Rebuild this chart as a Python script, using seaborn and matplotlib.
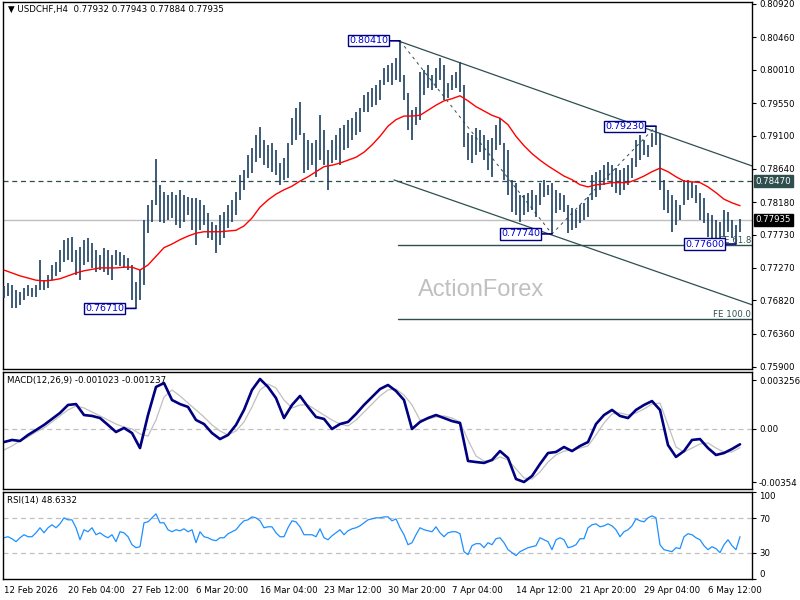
"""
USDCHF H4 chart - price bars with MA, channel and FE levels, MACD and RSI panels
Style: MetaTrader-like, white background, dark bars, thin black frames
"""

import numpy as np
import pandas as pd
import matplotlib
matplotlib.use("Agg")
import matplotlib.pyplot as plt
import matplotlib.transforms as mtransforms
import seaborn as sns

sns.set_style("white")
plt.rcParams["font.family"] = ["DejaVu Sans"]

# ── Price bars (one entry every 2 H4 bars) ─────────────────────────────────
highs = [
    0.7702, 0.7706, 0.7703, 0.7697, 0.7694, 0.7699, 0.7703, 0.7699, 0.7703, 0.7738,
    0.7710, 0.7717, 0.7731, 0.7735, 0.7752, 0.7766, 0.7768, 0.7770, 0.7752, 0.7756,
    0.7766, 0.7768, 0.7761, 0.7752, 0.7745, 0.7754, 0.7752, 0.7745, 0.7752, 0.7749,
    0.7745, 0.7741, 0.7731, 0.7708, 0.7724, 0.7793, 0.7814, 0.7821, 0.7878, 0.7842,
    0.7832, 0.7828, 0.7832, 0.7828, 0.7835, 0.7828, 0.7825, 0.7824, 0.7824, 0.7821,
    0.7814, 0.7803, 0.7790, 0.7786, 0.7800, 0.7804, 0.7814, 0.7821, 0.7832, 0.7855,
    0.7862, 0.7883, 0.7893, 0.7911, 0.7922, 0.7904, 0.7897, 0.7900, 0.7890, 0.7872,
    0.7879, 0.7900, 0.7934, 0.7948, 0.7956, 0.7914, 0.7904, 0.7900, 0.7904, 0.7939,
    0.7918, 0.7890, 0.7904, 0.7911, 0.7920, 0.7925, 0.7932, 0.7934, 0.7943, 0.7948,
    0.7966, 0.7970, 0.7976, 0.7980, 0.7987, 0.8004, 0.8008, 0.8010, 0.8017, 0.8041,
    0.7994, 0.7969, 0.7945, 0.7950, 0.7998, 0.8001, 0.8008, 0.7994, 0.8004, 0.8017,
    0.8008, 0.7983, 0.7994, 0.7998, 0.8012, 0.7980, 0.7914, 0.7911, 0.7920, 0.7918,
    0.7911, 0.7904, 0.7907, 0.7925, 0.7934, 0.7900, 0.7890, 0.7849, 0.7844, 0.7828,
    0.7828, 0.7831, 0.7835, 0.7828, 0.7844, 0.7849, 0.7842, 0.7844, 0.7835, 0.7831,
    0.7828, 0.7814, 0.7810, 0.7807, 0.7814, 0.7817, 0.7825, 0.7855, 0.7860, 0.7862,
    0.7869, 0.7874, 0.7869, 0.7865, 0.7862, 0.7865, 0.7869, 0.7879, 0.7904, 0.7911,
    0.7904, 0.7897, 0.7914, 0.7923, 0.7914, 0.7849, 0.7835, 0.7828, 0.7821, 0.7814,
    0.7849, 0.7849, 0.7846, 0.7842, 0.7831, 0.7824, 0.7803, 0.7800, 0.7793, 0.7790,
    0.7807, 0.7804, 0.7793, 0.7786, 0.7794,
]
lows = [
    0.7685, 0.7688, 0.7672, 0.7672, 0.7676, 0.7683, 0.7688, 0.7687, 0.7687, 0.7696,
    0.7696, 0.7699, 0.7710, 0.7716, 0.7721, 0.7735, 0.7738, 0.7735, 0.7717, 0.7710,
    0.7731, 0.7735, 0.7727, 0.7721, 0.7724, 0.7721, 0.7717, 0.7710, 0.7731, 0.7730,
    0.7727, 0.7724, 0.7683, 0.7671, 0.7683, 0.7703, 0.7775, 0.7790, 0.7814, 0.7790,
    0.7789, 0.7793, 0.7796, 0.7786, 0.7782, 0.7790, 0.7800, 0.7779, 0.7759, 0.7779,
    0.7786, 0.7768, 0.7766, 0.7748, 0.7759, 0.7768, 0.7782, 0.7790, 0.7800, 0.7821,
    0.7835, 0.7851, 0.7858, 0.7873, 0.7879, 0.7869, 0.7865, 0.7860, 0.7855, 0.7842,
    0.7849, 0.7851, 0.7897, 0.7904, 0.7911, 0.7858, 0.7862, 0.7869, 0.7853, 0.7876,
    0.7869, 0.7835, 0.7872, 0.7876, 0.7869, 0.7890, 0.7893, 0.7904, 0.7911, 0.7915,
    0.7943, 0.7943, 0.7950, 0.7952, 0.7959, 0.7980, 0.7984, 0.7980, 0.7987, 0.7984,
    0.7959, 0.7918, 0.7904, 0.7925, 0.7932, 0.7966, 0.7976, 0.7973, 0.7976, 0.7987,
    0.7959, 0.7962, 0.7973, 0.7976, 0.7970, 0.7894, 0.7876, 0.7872, 0.7883, 0.7887,
    0.7876, 0.7862, 0.7853, 0.7890, 0.7897, 0.7849, 0.7828, 0.7804, 0.7800, 0.7790,
    0.7800, 0.7804, 0.7807, 0.7797, 0.7814, 0.7825, 0.7828, 0.7774, 0.7803, 0.7807,
    0.7804, 0.7775, 0.7779, 0.7782, 0.7789, 0.7793, 0.7797, 0.7821, 0.7825, 0.7835,
    0.7842, 0.7849, 0.7839, 0.7831, 0.7828, 0.7835, 0.7842, 0.7851, 0.7867, 0.7876,
    0.7883, 0.7880, 0.7894, 0.7897, 0.7835, 0.7807, 0.7803, 0.7777, 0.7786, 0.7793,
    0.7814, 0.7821, 0.7824, 0.7817, 0.7793, 0.7789, 0.7770, 0.7768, 0.7766, 0.7766,
    0.7770, 0.7777, 0.7768, 0.7760, 0.7777,
]

# ── Moving average, MACD, signal (one entry every 4 bars) ─────────────────
ma_vals = [
    0.7724, 0.7720, 0.7716, 0.7713, 0.7710, 0.7709, 0.7710, 0.7712, 0.7716, 0.7720,
    0.7723, 0.7725, 0.7727, 0.7727, 0.7727, 0.7728, 0.7728, 0.7724, 0.7731, 0.7743,
    0.7755, 0.7760, 0.7766, 0.7771, 0.7775, 0.7777, 0.7777, 0.7777, 0.7778, 0.7779,
    0.7785, 0.7796, 0.7811, 0.7821, 0.7829, 0.7835, 0.7840, 0.7847, 0.7853, 0.7860,
    0.7867, 0.7869, 0.7872, 0.7876, 0.7880, 0.7887, 0.7897, 0.7909, 0.7923, 0.7932,
    0.7937, 0.7937, 0.7938, 0.7945, 0.7952, 0.7958, 0.7961, 0.7965, 0.7958, 0.7950,
    0.7944, 0.7938, 0.7934, 0.7925, 0.7909, 0.7896, 0.7885, 0.7876, 0.7868, 0.7861,
    0.7854, 0.7849, 0.7842, 0.7839, 0.7842, 0.7843, 0.7845, 0.7845, 0.7845, 0.7849,
    0.7854, 0.7860, 0.7865, 0.7860, 0.7853, 0.7847, 0.7846, 0.7845, 0.7839, 0.7831,
    0.7822, 0.7817, 0.7813,
]
macd_vals = [
    -0.00087, -0.00073, -0.00080, -0.00040, -0.00007, 0.00027, 0.00067, 0.00107, 0.00160, 0.00166,
    0.00093, 0.00087, 0.00073, 0.00027, -0.00020, 0.00007, -0.00027, -0.00127, 0.00093, 0.00280,
    0.00306, 0.00193, 0.00166, 0.00147, 0.00060, 0.00033, -0.00027, -0.00067, -0.00040, 0.00027,
    0.00127, 0.00260, 0.00333, 0.00280, 0.00206, 0.00073, 0.00160, 0.00220, 0.00147, 0.00080,
    0.00067, 0.00000, 0.00033, 0.00047, 0.00100, 0.00160, 0.00213, 0.00266, 0.00293, 0.00253,
    0.00193, 0.00000, 0.00047, 0.00073, 0.00093, 0.00073, 0.00053, 0.00040, -0.00213, -0.00220,
    -0.00226, -0.00206, -0.00147, -0.00193, -0.00333, -0.00353, -0.00313, -0.00233, -0.00160, -0.00153,
    -0.00120, -0.00147, -0.00113, -0.00087, 0.00033, 0.00093, 0.00127, 0.00087, 0.00073, 0.00127,
    0.00160, 0.00186, 0.00127, -0.00107, -0.00186, -0.00147, -0.00073, -0.00067, -0.00127, -0.00173,
    -0.00160, -0.00133, -0.00102,
]
signal_vals = [
    -0.00140, -0.00113, -0.00080, -0.00053, -0.00020, 0.00007, 0.00047, 0.00087, 0.00127, 0.00153,
    0.00140, 0.00113, 0.00087, 0.00060, 0.00033, 0.00013, 0.00000, -0.00033, -0.00047, 0.00060,
    0.00213, 0.00260, 0.00220, 0.00173, 0.00127, 0.00080, 0.00027, -0.00013, -0.00040, -0.00013,
    0.00047, 0.00147, 0.00260, 0.00300, 0.00273, 0.00193, 0.00140, 0.00160, 0.00160, 0.00127,
    0.00093, 0.00060, 0.00033, 0.00020, 0.00060, 0.00113, 0.00166, 0.00220, 0.00260, 0.00266,
    0.00226, 0.00160, 0.00060, 0.00067, 0.00080, 0.00087, 0.00073, 0.00047, -0.00073, -0.00180,
    -0.00213, -0.00213, -0.00186, -0.00206, -0.00266, -0.00326, -0.00333, -0.00286, -0.00220, -0.00173,
    -0.00147, -0.00140, -0.00127, -0.00113, -0.00040, 0.00040, 0.00100, 0.00107, 0.00093, 0.00107,
    0.00133, 0.00166, 0.00173, 0.00027, -0.00120, -0.00153, -0.00127, -0.00100, -0.00093, -0.00127,
    -0.00153, -0.00153, -0.00124,
]

# ── RSI (one entry every 2 bars) ───────────────────────────────────────────
rsi_vals = [
    47.4, 48.6, 46.3, 42.9, 47.4, 50.9, 48.6, 48.6, 53.1, 58.9,
    53.1, 58.9, 62.3, 58.9, 63.4, 70.3, 68.0, 68.0, 58.9, 45.1,
    56.6, 54.3, 58.9, 50.9, 53.1, 49.7, 47.4, 50.9, 42.9, 54.3,
    53.1, 48.6, 39.4, 36.0, 37.1, 64.6, 65.7, 70.3, 74.9, 64.6,
    64.6, 56.6, 54.3, 56.6, 55.4, 57.7, 54.3, 56.6, 41.7, 54.3,
    48.6, 47.4, 45.1, 44.0, 47.4, 47.4, 52.0, 54.3, 56.6, 62.3,
    66.9, 68.0, 71.4, 70.3, 66.9, 58.9, 60.0, 60.0, 53.1, 48.6,
    48.6, 58.9, 66.9, 65.7, 60.0, 50.9, 50.9, 50.9, 48.6, 57.7,
    47.4, 45.1, 49.7, 53.1, 56.6, 50.9, 55.4, 57.7, 58.9, 61.1,
    64.6, 68.0, 69.1, 70.3, 70.3, 71.4, 71.4, 66.9, 69.1, 58.9,
    50.9, 39.4, 41.7, 50.9, 58.9, 56.6, 55.4, 54.3, 60.0, 53.1,
    48.6, 53.1, 54.3, 54.3, 52.0, 31.4, 28.0, 38.3, 40.6, 40.6,
    36.0, 41.7, 39.4, 46.3, 47.4, 41.7, 33.7, 30.3, 26.9, 31.4,
    33.7, 36.0, 37.1, 38.3, 47.4, 45.1, 42.9, 33.7, 45.1, 47.4,
    45.1, 36.0, 37.1, 39.4, 46.3, 46.3, 58.9, 62.3, 63.4, 60.0,
    61.1, 63.4, 61.1, 56.6, 48.6, 54.3, 56.6, 61.1, 69.1, 66.9,
    65.7, 70.3, 72.6, 70.3, 39.4, 33.7, 32.6, 31.4, 36.0, 34.9,
    48.6, 52.0, 50.9, 47.4, 45.1, 38.3, 33.7, 37.1, 34.9, 30.3,
    39.4, 45.1, 38.3, 33.7, 48.63,
]

# ── Axis labels ────────────────────────────────────────────────────────────
price_ticks = [0.80920, 0.80460, 0.80010, 0.79550, 0.79100, 0.78640,
               0.78180, 0.77730, 0.77270, 0.76820, 0.76360, 0.75900]
macd_ticks = [0.003256, 0.0, -0.00354]
macd_tick_labels = ["0.003256", "0.00", "-0.00354"]
rsi_ticks = [100, 70, 30, 0]
date_labels = ["12 Feb 2026", "20 Feb 04:00", "27 Feb 12:00", "6 Mar 20:00",
               "16 Mar 04:00", "23 Mar 12:00", "30 Mar 20:00", "7 Apr 04:00",
               "14 Apr 12:00", "21 Apr 20:00", "29 Apr 04:00", "6 May 12:00"]

# ── Analysis drawings ──────────────────────────────────────────────────────
upper_channel_bars = [197, 374]
upper_channel_prices = [0.80410, 0.78680]
lower_channel_bars = [195, 374]
lower_channel_prices = [0.78486, 0.76760]
fe_path_bars = [198, 274, 326]
fe_path_prices = [0.80410, 0.77740, 0.79230]
fe_names = ["FE 61.8", "FE 100.0"]
fe_prices = [0.77580, 0.76560]
swing_bars = [198, 326, 274, 366, 66]
swing_prices = [0.80410, 0.79230, 0.77740, 0.77600, 0.76710]
resistance = 0.78470
last_price = 0.77935

# ── Palette ────────────────────────────────────────────────────────────────
C_BAR = "#1B4060"
C_SLATE = "#2F4F4F"
C_NAVY = "#000080"
C_LABEL = "#0000CD"
C_SILVER = "#C0C0C0"
FS = 6.2

# ── Frames built from tables ───────────────────────────────────────────────
bars = pd.DataFrame({"bar": np.arange(len(highs)) * 2, "high": highs, "low": lows})
slow = pd.DataFrame({"bar": np.arange(len(ma_vals)) * 4, "ma": ma_vals,
                     "macd": macd_vals, "signal": signal_vals})
rsi = pd.DataFrame({"bar": np.arange(len(rsi_vals)) * 2, "rsi": rsi_vals})

fig = plt.figure(figsize=(8, 6), dpi=100)
fig.patch.set_facecolor("white")


def px_axes(x0, y0, x1, y1):
    return fig.add_axes([x0 / 800, 1 - y1 / 600, (x1 - x0) / 800, (y1 - y0) / 600])


ax = px_axes(3, 2, 752, 369)
axm = px_axes(3, 372, 752, 489)
axr = px_axes(3, 492, 752, 579)

for a in (ax, axm, axr):
    a.set_xlim(-0.5, 374)
    a.set_facecolor("white")
    for s in a.spines.values():
        s.set_color("black")
        s.set_linewidth(1.0)
    a.yaxis.tick_right()
    a.tick_params(axis="y", direction="out", length=3, width=0.8, pad=2,
                  labelsize=FS, colors="black")
    a.set_xlabel("")
    a.set_ylabel("")

# ── Main panel ─────────────────────────────────────────────────────────────
ax.set_ylim(0.75872, 0.80947)
ax.vlines(bars["bar"], bars["low"], bars["high"], color=C_BAR, lw=1.2, zorder=3)
sns.lineplot(data=slow, x="bar", y="ma", ax=ax, color="#FF0000", lw=1.0,
             estimator=None, zorder=4)
ax.set_xlabel("")
ax.set_ylabel("")

ax.axhline(resistance, color=C_SLATE, lw=0.9, ls=(0, (4, 3)), zorder=2)
ax.axhline(last_price, color=C_SILVER, lw=1.0, zorder=1)
ax.plot(upper_channel_bars, upper_channel_prices, color=C_SLATE, lw=0.9, zorder=2)
ax.plot(lower_channel_bars, lower_channel_prices, color=C_SLATE, lw=0.9, zorder=2)
ax.plot(fe_path_bars, fe_path_prices, color=C_SLATE, lw=0.7, ls=(0, (3, 4)), zorder=2)
for name, level in zip(fe_names, fe_prices):
    ax.plot([197, 374], [level, level], color=C_SLATE, lw=1.0, zorder=2)
    ax.text(373.5, level, name, ha="right", va="bottom", fontsize=FS,
            color=C_SLATE, zorder=3)

for b, p in zip(swing_bars, swing_prices):
    ax.annotate(f"{p:.5f}", xy=(b, p), xytext=(-12, 0), textcoords="offset pixels",
                ha="right", va="center", fontsize=6.8, color=C_LABEL, zorder=6,
                bbox=dict(boxstyle="square,pad=0.12", fc="white", ec=C_NAVY, lw=1.0),
                arrowprops=dict(arrowstyle="-", color=C_NAVY, lw=1.2,
                                shrinkA=0, shrinkB=0))

ax.set_yticks(price_ticks)
ax.set_yticklabels([f"{t:.5f}" for t in price_ticks])
ax.set_xticks([])

blend = mtransforms.blended_transform_factory(ax.transAxes, ax.transData)
ax.text(1.005, resistance, f"{resistance:.5f}", transform=blend, ha="left",
        va="center", fontsize=FS, color="white", clip_on=False, zorder=7,
        bbox=dict(boxstyle="square,pad=0.2", fc=C_SLATE, ec=C_SLATE))
ax.text(1.005, last_price, f"{last_price:.5f}", transform=blend, ha="left",
        va="center", fontsize=FS, color="white", clip_on=False, zorder=7,
        bbox=dict(boxstyle="square,pad=0.2", fc="black", ec="black"))

ax.text(0.007, 0.979, "\u25BC USDCHF,H4  0.77932 0.77943 0.77884 0.77935",
        transform=ax.transAxes, ha="left", va="center", fontsize=FS, color="black")
ax.text(0.638, 0.215, "ActionForex", transform=ax.transAxes, ha="center",
        va="center", fontsize=17, color=C_SILVER, family="Liberation Sans", zorder=0)

# ── MACD panel ─────────────────────────────────────────────────────────────
axm.set_ylim(-0.003996, 0.003796)
axm.axhline(0, color=C_SILVER, lw=0.9, ls=(0, (4, 3)))
sns.lineplot(data=slow, x="bar", y="signal", ax=axm, color=C_SILVER, lw=0.9,
             estimator=None)
sns.lineplot(data=slow, x="bar", y="macd", ax=axm, color=C_NAVY, lw=1.9,
             estimator=None)
axm.set_xlabel("")
axm.set_ylabel("")
axm.set_yticks(macd_ticks)
axm.set_yticklabels(macd_tick_labels)
axm.set_xticks([])
axm.text(0.006, 0.925, "MACD(12,26,9) -0.001023 -0.001237", transform=axm.transAxes,
         ha="left", va="center", fontsize=FS, color="black")

# ── RSI panel ──────────────────────────────────────────────────────────────
axr.set_ylim(0, 100)
for lvl in (70, 30):
    axr.axhline(lvl, color=C_SILVER, lw=0.9, ls=(0, (4, 3)))
sns.lineplot(data=rsi, x="bar", y="rsi", ax=axr, color="#1E90FF", lw=0.9,
             estimator=None)
axr.set_xlabel("")
axr.set_ylabel("")
axr.set_yticks(rsi_ticks)
axr.set_yticklabels([str(t) for t in rsi_ticks])
ylabels = axr.get_yticklabels()
ylabels[0].set_va("top")
ylabels[-1].set_va("bottom")
axr.text(0.006, 0.90, "RSI(14) 48.6332", transform=axr.transAxes,
         ha="left", va="center", fontsize=FS, color="black")

axr.set_xticks(np.arange(len(date_labels)) * 32)
axr.set_xticklabels(date_labels, ha="left")
axr.tick_params(axis="x", direction="out", length=3, width=0.8, pad=2,
                labelsize=FS, colors="black")

fig.savefig("out.png", dpi=100, facecolor="white")
